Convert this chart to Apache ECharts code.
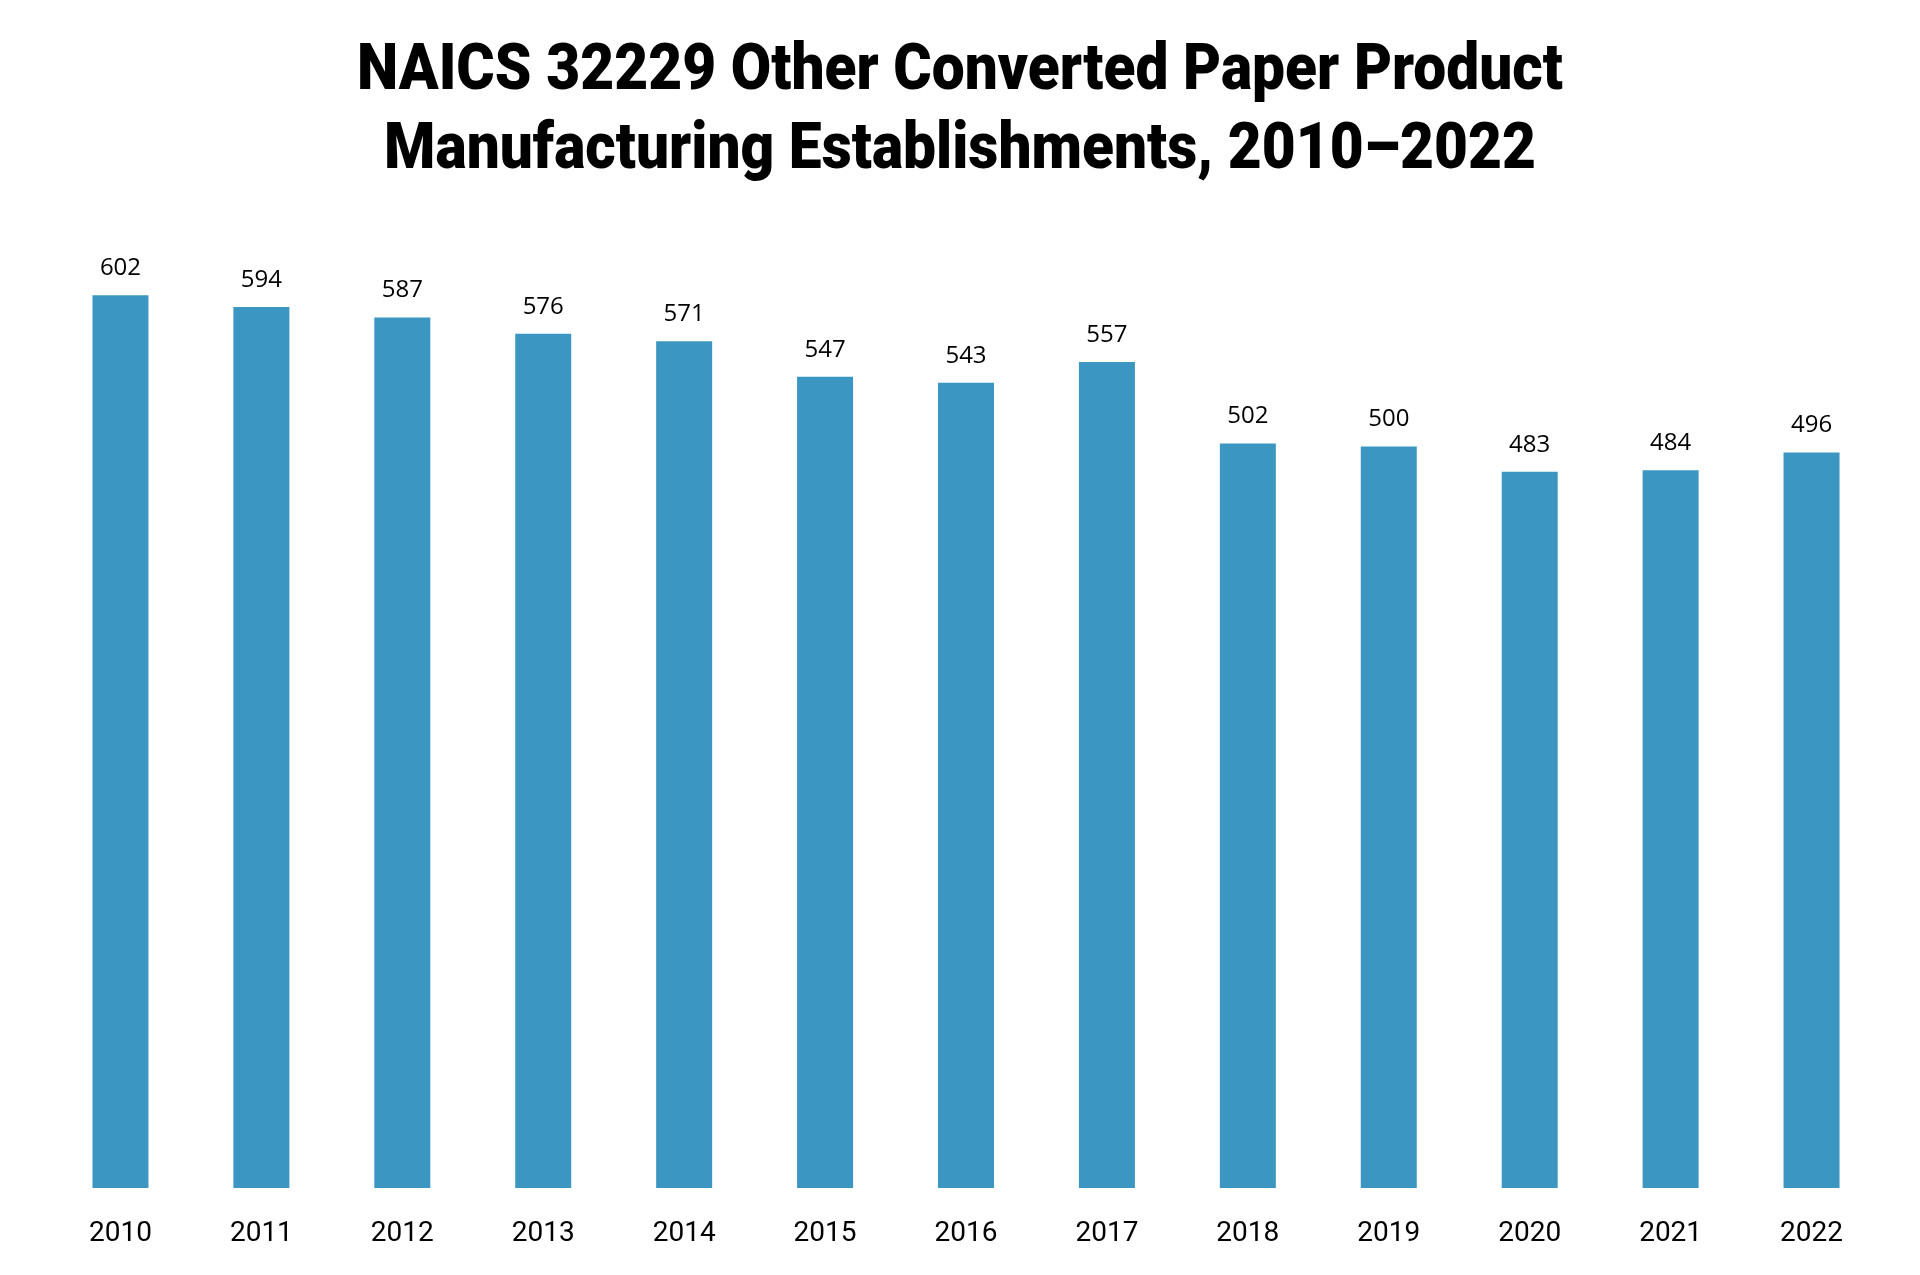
<!DOCTYPE html>
<html>
<head>
<meta charset="utf-8">
<title>NAICS 32229 Establishments</title>
<script src="https://cdn.jsdelivr.net/npm/echarts@6/dist/echarts.min.js"></script>
<style>
  html, body { margin: 0; padding: 0; background: #fff; }
  #chart { width: 1920px; height: 1275px; }
</style>
</head>
<body>
<div id="chart"></div>
<script>
var years = ['2010', '2011', '2012', '2013', '2014', '2015', '2016', '2017', '2018', '2019', '2020', '2021', '2022'];
var establishments = [602, 594, 587, 576, 571, 547, 543, 557, 502, 500, 483, 484, 496];
var titleLines = ['NAICS 32229 Other Converted Paper Product', 'Manufacturing Establishments, 2010\u20132022'];

// the original title uses a condensed face; squeeze a normal bold one to the same width
var titleFont = '900 64px Roboto, "Noto Sans", sans-serif';
var ctx = document.createElement('canvas').getContext('2d');
ctx.font = titleFont;
var squeeze = 1206 / ctx.measureText(titleLines[0]).width;

var myChart = echarts.init(document.getElementById('chart'));
var options = {
  backgroundColor: '#ffffff',
  graphic: [
    {
      type: 'text',
      x: 960,
      y: 73,
      scaleX: squeeze,
      style: {
        text: titleLines[0],
        font: titleFont,
        fill: '#000',
        align: 'center',
        verticalAlign: 'middle'
      }
    },
    {
      type: 'text',
      x: 960,
      y: 152,
      scaleX: squeeze,
      style: {
        text: titleLines[1],
        font: titleFont,
        fill: '#000',
        align: 'center',
        verticalAlign: 'middle'
      }
    }
  ],
  grid: {
    left: 50,
    right: 38,
    top: 224,
    bottom: 87
  },
  xAxis: {
    type: 'category',
    data: years,
    axisLine: { show: false },
    axisTick: { show: false },
    axisLabel: {
      margin: 32,
      fontFamily: 'Roboto, sans-serif',
      fontSize: 28,
      color: '#000'
    }
  },
  yAxis: {
    type: 'value',
    min: 0,
    max: 650,
    show: false,
    splitLine: { show: false }
  },
  series: [
    {
      name: 'Establishments',
      type: 'bar',
      barWidth: 56,
      data: establishments,
      itemStyle: { color: '#3b97c1' },
      label: {
        show: true,
        position: 'top',
        distance: 15,
        fontFamily: '"Open Sans", "Noto Sans", sans-serif',
        fontSize: 24,
        color: '#000'
      }
    }
  ]
};
myChart.setOption(options);
</script>
</body>
</html>
